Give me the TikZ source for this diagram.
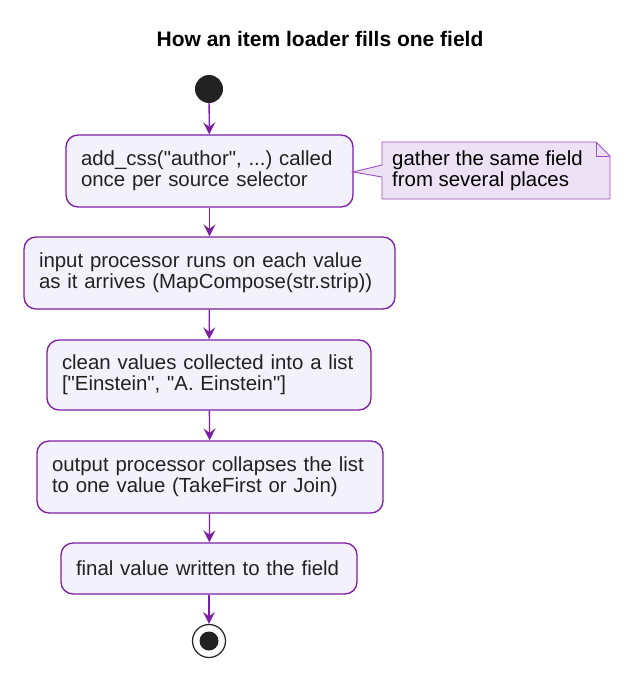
\documentclass[tikz,border=0pt]{standalone}
\usepackage{fontspec}
\setmainfont{Liberation Sans}[Ligatures=TeXOff]
\usetikzlibrary{arrows.meta}
\definecolor{pborder}{HTML}{7B1FA2}
\definecolor{pfill}{HTML}{F3F1FB}
\definecolor{nfill}{HTML}{EDE2F5}
\definecolor{nborder}{HTML}{9C4DC2}
\definecolor{ink}{HTML}{222222}
\frenchspacing
\tikzset{
  actbox/.style={draw=pborder, fill=pfill, line width=1.3pt, rounded corners=12pt,
    text=ink, align=left, inner xsep=15pt, inner ysep=0pt,
    font=\fontsize{20.4}{21}\selectfont},
  flow/.style={draw=pborder, line width=1.3pt, -{Stealth[length=12pt,width=12pt,inset=4.5pt]}},
}
\begin{document}
\begin{tikzpicture}[x=1pt,y=-1pt]
\useasboundingbox (0,0) rectangle (640,685);
\node[font=\bfseries\fontsize{21}{24}\selectfont, text=black] (title) at (320,39) {How an item loader fills one field};
\node[circle, fill=ink, minimum size=28pt, inner sep=0pt] (start) at (209,89) {};
\node[actbox, text width=257pt, minimum height=72pt] (b1) at (209.5,171) {add\_css("author", ...) called\\once per source selector};
\node[actbox, text width=341pt, minimum height=72pt] (b2) at (209.5,273) {input processor runs on each value\\as it arrives (MapCompose(str.strip))};
\node[actbox, text width=294pt, minimum height=70pt] (b3) at (209,375) {clean values collected into a list\\{["Einstein", "A. Einstein"]}};
\node[actbox, text width=316pt, minimum height=72pt] (b4) at (210,477) {output processor collapses the list\\to one value (TakeFirst or Join)};
\node[actbox, text width=266pt, minimum height=51pt] (b5) at (209,568.5) {final value written to the field};
\node[circle, draw=ink, line width=1.2pt, fill=white, minimum size=33pt, inner sep=0pt] (end) at (209,641) {};
\node[circle, fill=ink, minimum size=19pt, inner sep=0pt] (endin) at (end.center) {};
% note
\draw[draw=nborder, fill=nfill, line width=0.9pt] (382,142) -- (596,142) -- (610,156) -- (610,199) -- (382,199) -- (382,177) -- (353,172) -- (382,165) -- cycle;
\draw[draw=nborder, line width=0.9pt] (596,142) -- (596,156) -- (610,156);
\node[anchor=west, align=left, inner sep=0pt, text=black, font=\fontsize{20.4}{21}\selectfont] (note) at (392,170.5) {gather the same field\\from several places};
\draw[flow] (start) -- (b1);
\draw[flow] (b1) -- (b2);
\draw[flow] (b2) -- (b3);
\draw[flow] (b3) -- (b4);
\draw[flow] (b4) -- (b5);
\draw[flow] (b5) -- (end);
\end{tikzpicture}
\end{document}
